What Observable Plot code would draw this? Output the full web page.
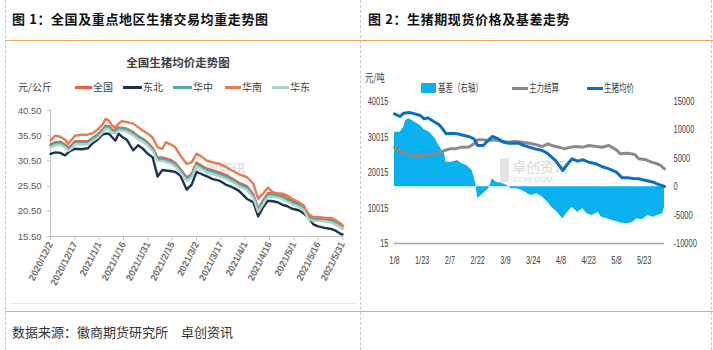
<!DOCTYPE html>
<html><head><meta charset="utf-8">
<script src="https://cdn.jsdelivr.net/npm/d3@7"></script>
<script src="https://cdn.jsdelivr.net/npm/@observablehq/plot@0.6"></script>
<style>
body{margin:0;background:#fff;}
#page{position:relative;width:713px;height:350px;overflow:hidden;background:#fff;font-family:"Noto Sans CJK SC","Noto Sans",sans-serif;color:#222;}
.abs{position:absolute;white-space:nowrap;}
.vdash{position:absolute;top:0;height:350px;width:0;border-left:1px dashed #c8c8c8;}
.hline{position:absolute;left:5px;width:708px;height:0;border-top:1.5px solid #f0a860;}
.head{font-size:13px;font-weight:bold;line-height:17px;color:#111;letter-spacing:0.6px;}
.lg1{font-size:10px;line-height:12px;color:#404040;}
.sw{position:absolute;height:3px;}
.cond{display:inline-block;transform-origin:left center;}
svg{overflow:visible;}
</style>
</head><body>
<div id="page"></div>
<script>
// ---------- Chart 1 data: 全国生猪均价走势图 (元/公斤) ----------
const start1 = "2020-12-02";
const end1 = "2021-05-31";
const days1 = [0,3,6,9,11,13,15,19,23,26,29,32,34,36,38,40,42,44,47,51,54,57,60,63,66,69,71,74,77,80,84,87,90,93,96,100,104,108,112,116,121,125,128,131,134,137,140,143,146,149,153,156,159,162,165,169,173,176,179,180];
const national = [33.8,34.2,34.3,33.8,33.1,33.6,34.4,34.4,34.4,35.1,35.7,36.7,37.5,37.4,36.7,36.6,37.1,37.1,36.9,36.2,35.4,34.9,34.1,33.1,31.2,31.2,31.0,30.7,30.1,28.9,27.2,27.9,30.2,29.6,29.0,28.6,28.2,27.7,27.0,26.2,25.5,23.9,21.1,22.6,24.1,24.1,23.9,23.6,23.1,22.6,22.1,21.5,19.6,19.3,19.3,19.2,19.0,18.5,18.0,17.7];
const northeast = [31.9,32.2,32.1,31.6,32.2,32.6,32.9,32.8,33.0,34.0,34.7,35.7,35.9,35.9,35.2,34.5,35.9,35.3,34.7,32.6,33.6,32.9,31.9,31.2,27.4,28.7,28.6,28.5,28.3,27.6,24.8,25.8,28.3,27.9,27.5,26.9,26.6,25.8,25.3,24.6,23.0,22.3,19.5,21.3,22.6,22.5,22.3,21.8,21.5,21.0,20.7,20.1,19.2,17.9,17.5,17.2,17.0,16.6,16.0,15.9];
const central = [33.6,34.0,34.1,33.6,32.9,33.4,34.2,34.2,34.2,34.9,35.5,36.5,37.3,37.2,36.5,36.4,36.9,36.9,36.7,36.0,35.2,34.7,33.9,32.9,30.9,30.9,30.7,30.4,29.8,28.6,26.9,27.6,29.9,29.3,28.7,28.3,27.9,27.4,26.7,25.9,25.2,23.6,20.8,22.3,23.8,23.8,23.6,23.3,22.8,22.3,21.8,21.2,19.3,19.0,19.0,18.9,18.7,18.2,17.7,17.4];
const south = [34.55,35.5,35.3,34.7,33.9,34.7,35.5,35.7,35.7,36.0,36.7,37.7,38.85,38.5,37.5,37.1,37.9,38.4,38.2,37.9,37.2,36.5,35.9,35.1,33.2,32.9,34.2,33.8,33.2,31.6,29.9,30.2,31.9,31.4,30.6,30.2,29.9,29.3,28.6,27.9,27.3,26.0,23.0,24.0,25.2,24.3,24.1,24.0,23.6,23.0,22.3,21.7,20.0,19.3,19.3,19.2,19.2,18.7,17.9,17.7];
const east = [33.2,33.6,33.7,33.2,32.5,33.0,33.8,33.8,33.8,34.5,35.1,36.1,36.9,36.8,36.1,36.0,36.5,36.5,36.3,35.6,34.8,34.3,33.5,32.5,30.5,30.5,30.3,30.0,29.4,28.2,26.5,27.2,29.5,28.9,28.3,27.9,27.5,27.0,26.3,25.5,24.8,23.2,20.4,21.9,23.4,23.4,23.2,22.9,22.4,21.9,21.4,20.8,18.9,18.6,18.6,18.5,18.3,17.8,17.3,17.0];
const seriesNames1 = ["全国","东北","华中","华南","华东"];
const seriesColors1 = ["#e5604a","#1f3350","#4fa8a1","#e47b53","#a9d4c8"];
const yTicks1 = [15.5,20.5,25.5,30.5,35.5,40.5];
const xTicks1 = ["2020-12-02","2020-12-17","2021-01-01","2021-01-16","2021-01-31","2021-02-15","2021-03-02","2021-03-17","2021-04-01","2021-04-16","2021-05-01","2021-05-16","2021-05-31"];

// ---------- Chart 2 data: 生猪期现货价格及基差走势 ----------
const start2 = "2021-01-08";
const end2 = "2021-06-03";
const spotDays = [0,3,5,8,11,14,16,18,21,24,26,28,31,34,36,40,43,45,48,51,53,56,59,62,67,70,73,76,80,83,87,91,93,96,99,102,105,109,112,116,120,123,126,129,132,136,140,142,146];
const spotVals = [36540,35790,36730,36920,36540,36070,35135,35415,34475,33540,32320,30910,31100,30910,30630,30160,29500,27620,27620,29220,30160,29500,28560,28280,28280,27620,27150,26680,26210,25275,23400,20580,21990,23865,23210,23585,22925,22460,21705,21050,20110,18515,18515,18325,18230,17760,17290,16825,16070];
const futDays = [0,4,7,11,15,18,22,25,27,30,33,36,40,43,45,48,51,54,58,62,65,69,73,76,80,83,85,89,92,95,98,102,105,109,112,116,120,122,126,130,132,136,139,141,144,146];
const futVals = [27150,25745,25085,24805,24805,24990,25275,25745,26210,26680,26680,27150,27150,28090,29220,29220,29030,29220,28840,28560,28840,28560,28280,27900,27340,28090,27620,27150,26680,27150,27340,27150,27620,27340,27150,27620,26400,25275,25460,25085,23865,23585,22925,22645,21990,21050];
const basisDays = [0,3,5,6,8,11,14,16,19,22,24,27,28,31,34,36,39,42,44,45,48,51,53,55,58,61,63,66,69,72,74,77,80,83,85,88,91,93,96,99,102,104,107,110,112,115,118,121,123,126,129,131,134,137,140,142,145,146];
const basisVals = [9600,9600,10480,11650,11950,11360,10780,10010,9600,8430,7250,5790,4320,4320,4610,4140,3730,2850,500,-2140,-1260,-380,1390,800,620,210,-380,-380,-670,-1260,-1550,-1260,-1840,-2720,-3600,-4480,-5660,-4780,-3600,-4480,-3900,-4780,-5070,-4480,-5360,-5660,-5950,-6250,-6420,-6540,-6250,-5660,-5830,-5070,-5360,-5070,-4780,-3600];
const yTicksLeft = [15,10015,20015,30015,40015];
const yTicksRight = [-10000,-5000,0,5000,10000,15000];
const xTicks2 = ["2021-01-08","2021-01-23","2021-02-07","2021-02-22","2021-03-09","2021-03-24","2021-04-08","2021-04-23","2021-05-08","2021-05-23"];
const legend2 = ["基差（右轴）","主力结算","生猪均价"];
const colors2 = ["#0bb0ef","#8a8a8a","#0b6fc1"];

// ---------- helpers ----------
const page = document.getElementById("page");
function add(html, cls, left, top, extra) {
  const d = document.createElement("div");
  d.className = "abs " + (cls || "");
  d.style.left = left + "px"; d.style.top = top + "px";
  if (extra) Object.assign(d.style, extra);
  d.innerHTML = html;
  page.appendChild(d);
  return d;
}
const P = s => new Date(s + "T00:00:00Z");

// frame
[5, 360, 711].forEach(x => { const v = document.createElement("div"); v.className = "vdash"; v.style.left = x + "px"; page.appendChild(v); });
[40, 311].forEach(y => { const h = document.createElement("div"); h.className = "hline"; h.style.top = y + "px"; page.appendChild(h); });
add("", "", 10, 303, {width: "346px", height: "0", borderTop: "1px solid #ede6dc"});

add("图 1：全国及重点地区生猪交易均重走势图", "head", 12, 10);
add("图 2：生猪期现货价格及基差走势", "head", 368, 10);
add("数据来源：徽商期货研究所　卓创资讯", "", 12, 324, {fontSize: "13px", lineHeight: "16px", color: "#333"});

// watermarks
add("卓创资讯", "", 190, 158, {fontSize: "14px", color: "#e2e2e2", fontWeight: "bold"});
add("卓创资讯", "", 512, 156, {fontSize: "14px", color: "#d6d6d6"});
add("SC99.COM", "", 512, 175, {fontSize: "8px", color: "#d6d6d6", fontFamily: "Liberation Sans"});
add("", "", 500, 158, {width: "9px", height: "24px", background: "#e4e4e4"});

// ---------- Chart 1 ----------
add("全国生猪均价走势图", "", 0, 55, {width: "356px", textAlign: "center", fontSize: "11.5px", fontWeight: "bold", lineHeight: "14px", color: "#404040"});
add("元/公斤", "lg1", 18, 81);
const lgX1 = [[75, 93], [123, 143], [173, 193], [225, 242], [272, 290]];
seriesNames1.forEach((n, i) => {
  add("", "sw", lgX1[i][0], 86, {width: (lgX1[i][1] - lgX1[i][0] - 1) + "px", height: "2.5px", background: seriesColors1[i]});
  add(n, "lg1", lgX1[i][1], 81);
});

const s1 = P(start1);
const seriesData1 = [national, northeast, central, south, east];
const chart1 = Plot.plot({
  width: 360, height: 205,
  marginLeft: 50, marginRight: 18, marginTop: 10, marginBottom: 69,
  style: {background: "transparent", fontFamily: "Liberation Sans, Arial, sans-serif", fontSize: "9.5px", overflow: "visible"},
  x: {type: "utc", domain: [P(start1), P(end1)], label: null},
  y: {domain: [15.5, 40.5], label: null},
  marks: [
    Plot.ruleX([P(start1)], {stroke: "#bfbfbf"}),
    Plot.ruleY([15.5], {stroke: "#bfbfbf"}),
    ...seriesData1.map((vals, k) => Plot.lineY(
      vals.map((v, i) => ({date: d3.utcDay.offset(s1, days1[i]), v})),
      {x: "date", y: "v", stroke: seriesColors1[k], strokeWidth: 2.4})),
    Plot.axisY({ticks: yTicks1, tickFormat: d => d.toFixed(2), tickSize: 3, tickPadding: 6, stroke: "#bfbfbf", fill: "#595959"}),
    Plot.axisX({ticks: xTicks1.map(P), tickFormat: d3.utcFormat("%Y/%-m/%-d"), tickRotate: -63, tickSize: 4, tickPadding: 2, stroke: "#bfbfbf", fill: "#707070", fontWeight: "bold"})
  ]
});
chart1.style.position = "absolute"; chart1.style.left = "0px"; chart1.style.top = "100px";
page.appendChild(chart1);

// ---------- Chart 2 ----------
add('<span class="cond" style="transform:scaleX(0.75)">元/吨</span>', "", 365, 71, {fontSize: "11px", lineHeight: "13px", color: "#404040"});
add("", "", 421, 83, {width: "15px", height: "10px", background: colors2[0]});
add('<span class="cond" style="transform:scaleX(0.68)">' + legend2[0] + '</span>', "", 438, 81, {fontSize: "11px", lineHeight: "13px", color: "#404040"});
add("", "sw", 512, 87, {width: "16px", background: colors2[1]});
add('<span class="cond" style="transform:scaleX(0.68)">' + legend2[1] + '</span>', "", 529, 81, {fontSize: "11px", lineHeight: "13px", color: "#404040"});
add("", "sw", 587, 87, {width: "16px", background: colors2[2]});
add('<span class="cond" style="transform:scaleX(0.68)">' + legend2[2] + '</span>', "", 604, 81, {fontSize: "11px", lineHeight: "13px", color: "#404040"});

const s2 = P(start2);
const dims2 = {width: 350, height: 185, marginLeft: 33, marginRight: 47, marginTop: 11, marginBottom: 32};
const style2 = {background: "transparent", fontFamily: "Liberation Sans, Arial, sans-serif", fontSize: "11px", color: "#404040", overflow: "visible"};
const basisData = basisVals.map((v, i) => ({date: d3.utcDay.offset(s2, basisDays[i]), v}));
const futData = futVals.map((v, i) => ({date: d3.utcDay.offset(s2, futDays[i]), v}));
const spotData = spotVals.map((v, i) => ({date: d3.utcDay.offset(s2, spotDays[i]), v}));

const chart2a = Plot.plot({
  ...dims2, style: style2,
  x: {type: "utc", domain: [P(start2), P(end2)], label: null, axis: null},
  y: {domain: [-10000, 15000], label: null},
  marks: [
    Plot.areaY(basisData, {x: "date", y1: 0, y2: "v", fill: colors2[0]}),
    Plot.axisY({anchor: "right", ticks: yTicksRight, tickFormat: d => String(d), tickSize: 0, tickPadding: 9, fill: "#404040"})
  ]
});
const chart2b = Plot.plot({
  ...dims2, style: style2,
  x: {type: "utc", domain: [P(start2), P(end2)], label: null},
  y: {domain: [15, 40015], label: null},
  marks: [
    Plot.ruleY([15], {stroke: "#a6a6a6", strokeWidth: 1.5}),
    Plot.lineY(futData, {x: "date", y: "v", stroke: colors2[1], strokeWidth: 3}),
    Plot.lineY(spotData, {x: "date", y: "v", stroke: colors2[2], strokeWidth: 3}),
    Plot.axisY({ticks: yTicksLeft, tickFormat: d => String(d), tickSize: 0, tickPadding: 6, fill: "#404040"}),
    Plot.axisX({ticks: xTicks2.map(P), tickFormat: d3.utcFormat("%-m/%-d"), tickSize: 0, tickPadding: 13, fill: "#404040"})
  ]
});
[chart2a, chart2b].forEach(c => {
  c.style.position = "absolute"; c.style.left = "361px"; c.style.top = "90px";
  page.appendChild(c);
  c.querySelectorAll("text").forEach(t => {
    const L = t.getComputedTextLength();
    if (L > 0) { t.setAttribute("textLength", (L * 0.68).toFixed(2)); t.setAttribute("lengthAdjust", "spacingAndGlyphs"); }
  });
});
</script>
</body></html>
